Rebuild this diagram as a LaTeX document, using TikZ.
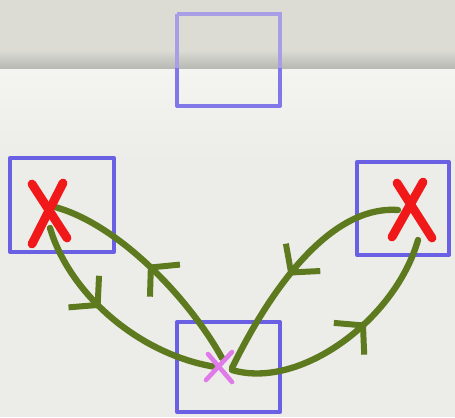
\documentclass[tikz,border=0pt]{standalone}
\usetikzlibrary{arrows.meta,decorations.markings}
\definecolor{paper}{HTML}{ECECE8}
\definecolor{paperlight}{HTML}{F4F4F1}
\definecolor{paperdark}{HTML}{DCDCD5}
\definecolor{penblue}{HTML}{6A60E4}
\definecolor{fadeblue}{HTML}{A89EE6}
\definecolor{pengreen}{HTML}{5E7A1E}
\definecolor{penred}{HTML}{F01818}
\definecolor{penpink}{HTML}{E07AE8}
\tikzset{
  bluebox/.style={draw=penblue,line width=2.3pt,line join=round},
  fadebox/.style={draw=fadeblue,line width=2.3pt},
  redx/.style={draw=penred,line width=5pt,line cap=round},
  pinkx/.style={draw=penpink,line width=2.6pt,line cap=round},
  greenpath/.style={draw=pengreen,line width=3.6pt,line cap=round},
  arrowat/.style={postaction={decorate},decoration={markings,
    mark=at position #1 with {\arrow{Straight Barb[length=11pt,width=25pt,line width=3.4pt]}}}}
}
\begin{document}
\begin{tikzpicture}[x=0.02cm,y=-0.02cm]
\useasboundingbox (0,0) rectangle (455,417);
% paper
\fill[paper] (0,0) rectangle (455,417);
\fill[paperdark] (0,0) rectangle (455,50);
\shade[top color=paperdark,bottom color=gray!40!paperdark] (0,50) rectangle (455,69);
\shade[top color=paperlight,bottom color=paper] (0,69) rectangle (455,160);
% boxes
\draw[fadebox] (177,14) -- (280,14) -- (280,68);
\draw[fadebox] (177,14) -- (177,68);
\draw[bluebox,draw=penblue!85!white] (177,68) -- (177,106) -- (280,106) -- (280,68);
\draw[bluebox] (10,158) rectangle (114,252);
\draw[bluebox] (357,162) rectangle (449,255);
\draw[bluebox] (177,322) rectangle (280,412);
% mark positions
\coordinate (lx) at (48,212);
\coordinate (rx) at (412,210);
\coordinate (px) at (222,367);
% green paths
\draw[greenpath,arrowat=0.42] (50,228) .. controls (70,295) and (140,355) .. (216,367);
\draw[greenpath,arrowat=0.52] (222,358) .. controls (190,300) and (120,225) .. (55,207);
\draw[greenpath,arrowat=0.55] (398,210) .. controls (330,205) and (270,290) .. (232,368);
\draw[greenpath,arrowat=0.6] (232,370) .. controls (300,390) and (395,320) .. (418,240);
% red crosses
\draw[redx] (32,184) -- (67,238);
\draw[redx] (63,183) -- (32,244);
\draw[redx] (397,183) -- (432,238);
\draw[redx] (423,182) -- (392,237);
% pink cross
\draw[pinkx] (208,354) -- (232,382);
\draw[pinkx] (232,352) -- (206,380);
\end{tikzpicture}
\end{document}
